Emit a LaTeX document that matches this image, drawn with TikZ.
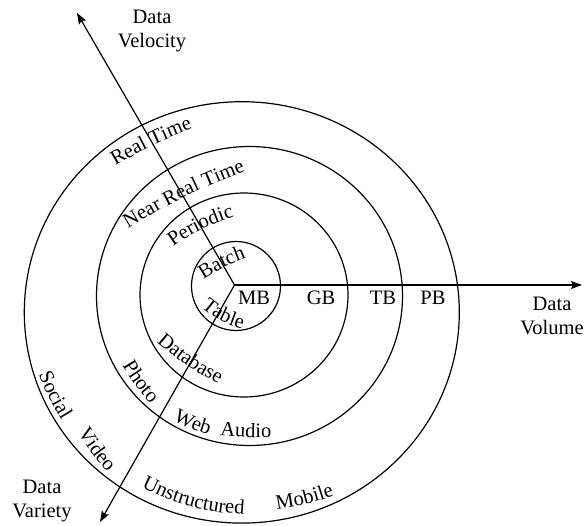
\documentclass[tikz,border=0pt]{standalone}
\usepackage{fontspec}
\setmainfont{Liberation Serif}
\usetikzlibrary{decorations.text,calc,arrows.meta}
\newcommand\labfont{\fontsize{20.5}{23.5}\selectfont}
% #1 midpoint of baseline (image coords), #2 chord angle, #3 bend (+ left, - right), #4 half length, #5 text
\newcommand\arclab[5]{%
  \path[decorate,decoration={text along path,text={|\labfont|#5},text align=center}]
    ($(#1)+(#2+180:#4pt)$) to[bend left=#3] ($(#1)+(#2:#4pt)$);
}
\begin{document}
\begin{tikzpicture}[x=1pt,y=-1pt,
  ring/.style={line width=1.2pt},
  axis/.style={line width=1.2pt,-{Stealth[length=11pt,width=8pt,inset=2pt]}},
  lab/.style={font=\labfont,inner sep=0pt}]
\useasboundingbox (0,0) rectangle (588,526);
% rings
\draw[ring] (236,286) circle[radius=44.5pt];
\draw[ring] (244,295) circle[x radius=104pt,y radius=102pt];
\draw[ring] (249.5,296) circle[x radius=153pt,y radius=149.5pt];
\draw[ring] (241.8,312.4) circle[x radius=217.5pt,y radius=210.7pt];
% axes
\coordinate (O) at (234.5,285);
\coordinate (vel) at (77,13);
\coordinate (var) at (100,522);
\coordinate (vol) at (582,285);
\draw[axis] (O) -- (vel);
\draw[axis] (O) -- (var);
\draw[axis] (O) -- (vol);
% axis titles
\node[lab,align=center] (tvel) at (152,31) {Data\\Velocity};
\node[lab,align=center] (tvol) at (552,316) {Data\\Volume};
\node[lab,align=center] (tvar) at (42,501) {Data\\Variety};
% volume labels
\node[lab,anchor=base] (mb) at (254,304) {MB};
\node[lab,anchor=base] (gb) at (321,304) {GB};
\node[lab,anchor=base] (tb) at (383,304) {TB};
\node[lab,anchor=base] (pb) at (433,304) {PB};
% velocity labels
\arclab{154.2,147.5}{26}{5}{47}{Real Time}
\arclab{186.7,200}{26}{5}{70}{Near Real Time}
\arclab{204,232.5}{26}{10}{38}{Periodic}
\arclab{225,269.2}{26.6}{7}{28}{Batch}
% variety labels
\arclab{222.3,316.8}{-28}{-15}{28}{Table}
\arclab{188,362.5}{-34}{-7}{42}{Database}
\arclab{136.8,384.6}{-54}{-6}{28}{Photo}
\arclab{191,427}{-23}{-7}{23}{Web}
\arclab{245.8,436.5}{-2}{-3}{30}{Audio}
\arclab{50.5,397.2}{-63}{-5}{30}{Social}
\arclab{93,452.1}{-54}{-6}{29}{Video}
\arclab{193,499.9}{-15}{-12}{58}{Unstructured}
\arclab{305.5,502}{13.6}{-6}{34}{Mobile}
\end{tikzpicture}
\end{document}
